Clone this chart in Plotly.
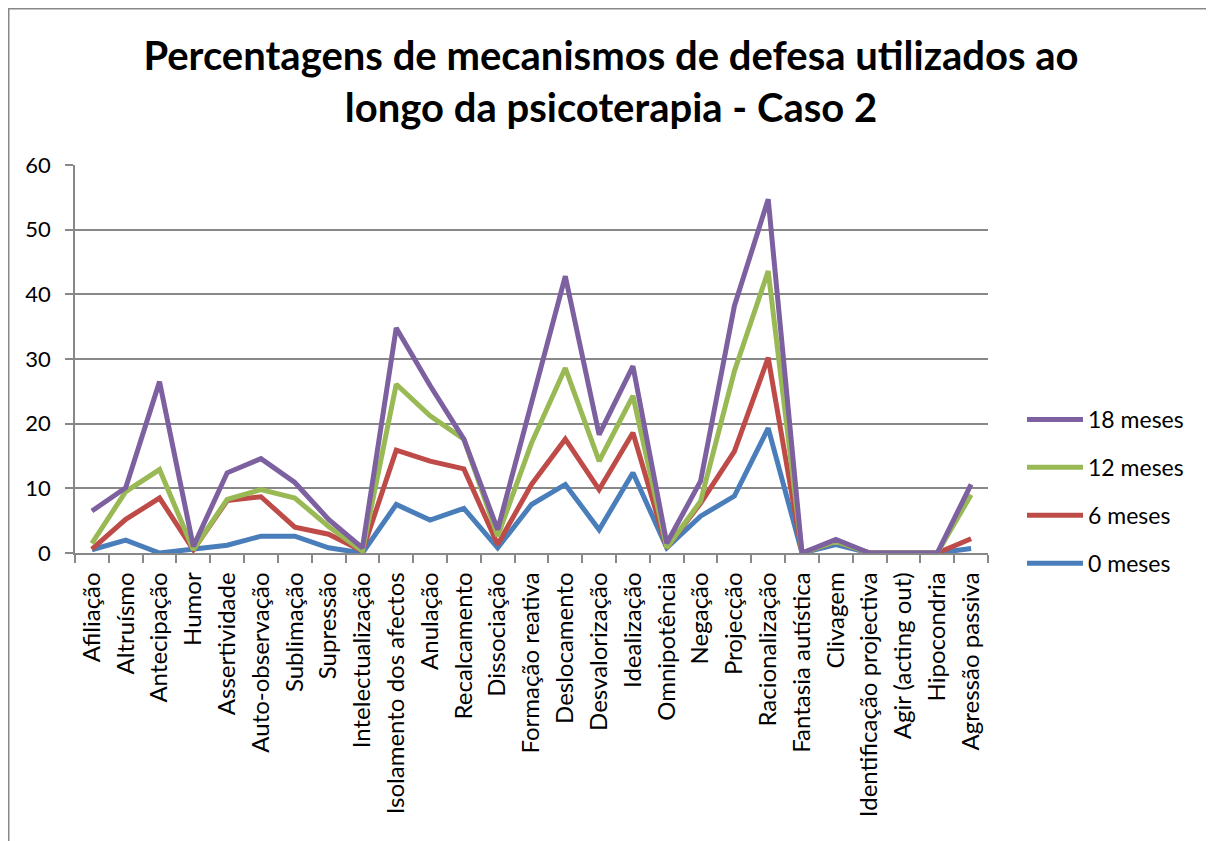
import plotly.graph_objects as go

categorias = ["Afiliação", "Altruísmo", "Antecipação", "Humor", "Assertividade",
              "Auto-observação", "Sublimação", "Supressão", "Intelectualização",
              "Isolamento dos afectos", "Anulação", "Recalcamento", "Dissociação",
              "Formação reativa", "Deslocamento", "Desvalorização", "Idealização",
              "Omnipotência", "Negação", "Projecção", "Racionalização",
              "Fantasia autística", "Clivagem", "Identificação projectiva",
              "Agir (acting out)", "Hipocondria", "Agressão passiva"]

meses_0 = [0.5, 2.0, 0.0, 0.6, 1.2, 2.6, 2.6, 0.8, 0.0, 7.5, 5.1, 6.9, 0.8, 7.5,
           10.6, 3.6, 12.4, 0.8, 5.7, 8.8, 19.3, 0.0, 1.3, 0.0, 0.0, 0.0, 0.7]
meses_6 = [0.6, 5.2, 8.5, 0.5, 8.1, 8.7, 4.0, 2.9, 0.3, 15.9, 14.2, 13.0, 1.3, 10.6,
           17.6, 9.8, 18.6, 0.8, 7.7, 15.7, 30.2, 0.0, 1.8, 0.0, 0.0, 0.0, 2.2]
meses_12 = [1.5, 9.5, 12.9, 0.5, 8.3, 9.8, 8.5, 4.1, 0.3, 26.1, 21.2, 17.6, 2.6, 17.0,
            28.6, 14.2, 24.3, 0.8, 8.0, 28.1, 43.6, 0.0, 1.8, 0.0, 0.0, 0.0, 9.0]
meses_18 = [6.5, 10.1, 26.5, 1.0, 12.4, 14.6, 10.9, 5.2, 0.8, 34.8, 25.9, 17.6, 3.6, 23.2,
            42.8, 18.3, 28.9, 1.5, 11.1, 38.2, 54.7, 0.0, 2.1, 0.0, 0.0, 0.0, 10.6]

series = [("0 meses", meses_0, "#4A7EBB", 4),
          ("6 meses", meses_6, "#BE4B48", 3),
          ("12 meses", meses_12, "#98B954", 2),
          ("18 meses", meses_18, "#7D60A0", 1)]

fig = go.Figure()
for nome, vals, cor, rank in series:
    fig.add_trace(go.Scatter(x=categorias, y=vals, name=nome, mode="lines",
                             legendgroup=nome, legendrank=rank,
                             line=dict(color=cor, width=5)))

grid = "#888888"
fonte = "Lato, 'Open Sans', sans-serif"

# the page body adds an 8px offset; coordinates below are in figure pixels
OFF = 8
W, H = 1214 - OFF, 841 - OFF
L, R, T, B = 75 - OFF, 988 - OFF, 165 - OFF, 553 - OFF
pw, ph = R - L, B - T

def px_x(p):
    return (p - OFF - L) / pw

def px_y(p):
    return (B - (p - OFF)) / ph

fig.update_layout(
    width=W, height=H,
    margin=dict(l=L, r=W - R, t=T, b=H - B, autoexpand=False),
    paper_bgcolor="white", plot_bgcolor="white",
    font=dict(family=fonte, color="black", size=20),
    title=dict(text="Percentagens de mecanismos de defesa utilizados ao<br>longo da psicoterapia - Caso 2",
               font=dict(family=fonte, size=40, color="black", weight="bold"),
               x=0.5, xanchor="center", xref="container",
               y=1 - 62 / H, yanchor="top", yref="container"),
    xaxis=dict(type="category", tickson="boundaries", ticks="outside", ticklen=8,
               tickcolor=grid, tickwidth=1.5, showline=True, linecolor=grid, linewidth=1.5,
               showgrid=False, tickangle=-90, tickfont=dict(size=24, family=fonte),
               ticklabelstandoff=8,
               range=[-0.5, len(categorias) - 0.5]),
    yaxis=dict(range=[0, 60], dtick=10, showgrid=True, gridcolor=grid, gridwidth=1.5,
               showline=True, linecolor=grid, linewidth=1.5, ticks="outside", ticklen=8,
               tickcolor=grid, tickwidth=1.5, tickfont=dict(size=22, family=fonte),
               ticklabelstandoff=10, zeroline=False),
    legend=dict(x=px_x(1022), xanchor="left", y=px_y(398), yanchor="top",
                traceorder="grouped", tracegroupgap=15,
                font=dict(size=23, family=fonte), itemwidth=56,
                bgcolor="rgba(0,0,0,0)"),
    shapes=[dict(type="rect", xref="paper", yref="paper",
                 x0=px_x(8.5), x1=px_x(1240), y0=px_y(870), y1=px_y(8.5),
                 line=dict(color=grid, width=2), fillcolor="rgba(0,0,0,0)", layer="below")],
)

fig.write_html("out.html")
